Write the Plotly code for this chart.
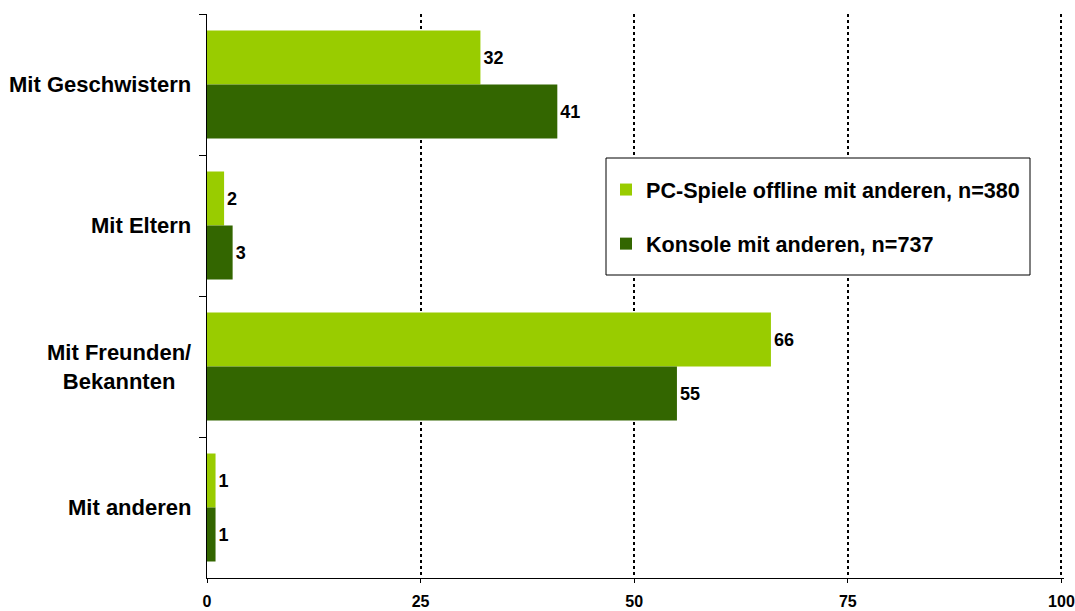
import plotly.graph_objects as go

# data
categories = ["Mit Geschwistern", "Mit Eltern", "Mit Freunden/<br>Bekannten", "Mit anderen"]
pc_offline = [32, 2, 66, 1]
konsole = [41, 3, 55, 1]
series_names = ["PC-Spiele offline mit anderen, n=380", "Konsole mit anderen, n=737"]
x_ticks = [0, 25, 50, 75, 100]

FONT = "Arial, Liberation Sans, sans-serif"

fig = go.Figure()
fig.add_trace(go.Bar(
    name=series_names[0], y=categories, x=pc_offline, orientation="h",
    marker=dict(color="#99CC00", line=dict(width=0)),
    text=pc_offline, textposition="outside", cliponaxis=False,
    textfont=dict(family=FONT, size=18, color="black", weight="bold"),
    legendgroup="a",
))
fig.add_trace(go.Bar(
    name=series_names[1], y=categories, x=konsole, orientation="h",
    marker=dict(color="#336600", line=dict(width=0)),
    text=konsole, textposition="outside", cliponaxis=False,
    textfont=dict(family=FONT, size=18, color="black", weight="bold"),
    legendgroup="b",
))

# category labels, centred lines like the original
for cat in categories:
    fig.add_annotation(
        x=0, xref="paper", xanchor="right", xshift=-14,
        y=cat, yref="y", text=cat, showarrow=False, align="center",
        font=dict(family=FONT, size=22, color="black", weight="bold"),
    )

# legend frame
fig.add_shape(
    type="rect", xref="paper", yref="paper",
    x0=(606 - 207) / 857, x1=(1030 - 207) / 857,
    y0=(578 - 275) / 564, y1=(578 - 158) / 564,
    fillcolor="white", line=dict(color="black", width=1), layer="above",
)

fig.update_layout(
    width=1075, height=611,
    margin=dict(l=207, r=11, t=14, b=33),
    plot_bgcolor="white", paper_bgcolor="white",
    barmode="group", bargap=0.234, bargroupgap=0,
    showlegend=True,
    legend=dict(
        x=(606 - 207) / 857, y=(578 - 169) / 564, xanchor="left", yanchor="top",
        bgcolor="rgba(0,0,0,0)", borderwidth=0,
        font=dict(family=FONT, size=21.6, color="black", weight="bold"),
        traceorder="grouped", tracegroupgap=23,
        itemwidth=30,
    ),
    xaxis=dict(
        range=[0, 100.3], tickvals=x_ticks, ticks="outside", ticklen=4,
        tickcolor="black", showline=True, linecolor="black", linewidth=1,
        showgrid=True, gridcolor="black", griddash="dot", gridwidth=1.5,
        zeroline=False, ticklabelstandoff=5, automargin=False,
        ticklabeloverflow="allow",
        tickfont=dict(family=FONT, size=16, color="black", weight="bold"),
    ),
    yaxis=dict(
        autorange="reversed", showticklabels=False, ticks="outside",
        tickson="boundaries", ticklen=7, tickcolor="black", automargin=False,
        showline=True, linecolor="black", linewidth=1, showgrid=False,
    ),
)

fig.write_html("out.html", config={"displayModeBar": False},
               post_script="document.body.style.margin='0';")
